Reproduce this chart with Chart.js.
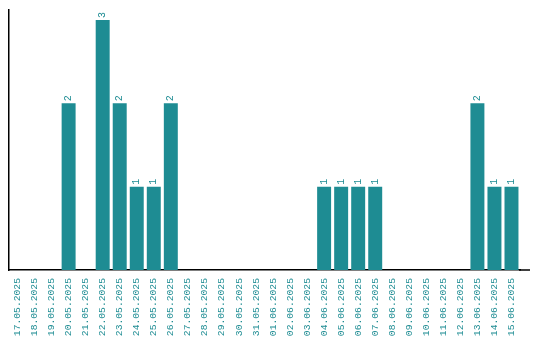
<!DOCTYPE html>
<html>
<head>
<meta charset="utf-8">
<script src="https://cdn.jsdelivr.net/npm/chart.js@4/dist/chart.umd.min.js"></script>
<style>
  html, body { margin: 0; padding: 0; background: #fff; }
  #wrap { width: 540px; height: 340px; }
</style>
</head>
<body>
<div id="wrap"><canvas id="myChart"></canvas></div>
<script>
const dates = [
  "17.05.2025", "18.05.2025", "19.05.2025", "20.05.2025", "21.05.2025",
  "22.05.2025", "23.05.2025", "24.05.2025", "25.05.2025", "26.05.2025",
  "27.05.2025", "28.05.2025", "29.05.2025", "30.05.2025", "31.05.2025",
  "01.06.2025", "02.06.2025", "03.06.2025", "04.06.2025", "05.06.2025",
  "06.06.2025", "07.06.2025", "08.06.2025", "09.06.2025", "10.06.2025",
  "11.06.2025", "12.06.2025", "13.06.2025", "14.06.2025", "15.06.2025"
];
const counts = [
  0, 0, 0, 2, 0,
  3, 2, 1, 1, 2,
  0, 0, 0, 0, 0,
  0, 0, 0, 1, 1,
  1, 1, 0, 0, 0,
  0, 0, 2, 1, 1
];

const teal = "#1e8c93";
const monoFont = "'Liberation Mono', 'DejaVu Sans Mono', monospace";

// draws the value above each bar, turned 90 degrees,
// and lets the x axis line run on a bit past the last bar
const barValues = {
  id: "barValues",
  afterDatasetsDraw(chart) {
    const ctx = chart.ctx;
    const meta = chart.getDatasetMeta(0);
    ctx.save();
    ctx.fillStyle = teal;
    ctx.font = "10px " + monoFont;
    ctx.textAlign = "left";
    ctx.textBaseline = "middle";
    meta.data.forEach((bar, i) => {
      if (!counts[i]) return;
      ctx.save();
      ctx.translate(bar.x, bar.y - 2);
      ctx.rotate(-Math.PI / 2);
      ctx.fillText(String(counts[i]), 0, 0);
      ctx.restore();
    });
    const area = chart.chartArea;
    ctx.strokeStyle = "#000";
    ctx.lineWidth = 1.5;
    ctx.beginPath();
    ctx.moveTo(area.right - 1, area.bottom);
    ctx.lineTo(530, area.bottom);
    ctx.stroke();
    ctx.restore();
  }
};

new Chart(document.getElementById("myChart"), {
  type: "bar",
  data: {
    labels: dates,
    datasets: [{
      data: counts,
      backgroundColor: teal,
      barPercentage: 0.82,
      categoryPercentage: 1
    }]
  },
  plugins: [barValues],
  options: {
    responsive: true,
    maintainAspectRatio: false,
    animation: false,
    layout: { padding: { left: 9, right: 20, top: 10, bottom: 3 } },
    plugins: {
      legend: { display: false },
      tooltip: { enabled: false }
    },
    scales: {
      x: {
        afterFit: (scale) => { scale.height = 67; },
        grid: { display: false, drawTicks: false },
        border: { display: true, color: "#000", width: 1.5 },
        ticks: {
          color: teal,
          font: { family: monoFont, size: 9.7 },
          maxRotation: 90,
          minRotation: 90,
          autoSkip: false,
          padding: 8
        }
      },
      y: {
        min: 0,
        max: 3.12,
        grid: { display: false, drawTicks: false },
        border: { display: true, color: "#000", width: 1.5 },
        ticks: { display: false }
      }
    }
  }
});
</script>
</body>
</html>
